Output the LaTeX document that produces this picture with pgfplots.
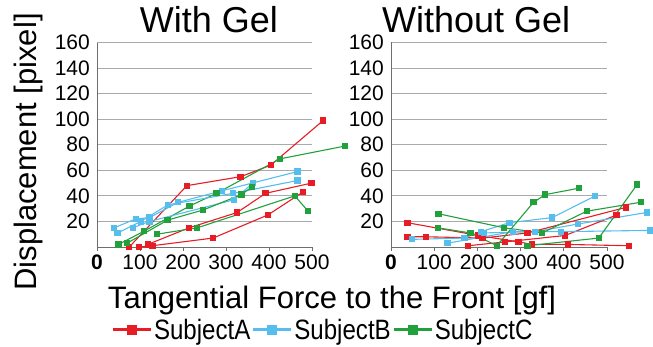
\documentclass[border=0pt]{standalone}
\usepackage{fontspec}
\setmainfont{Liberation Sans}
\newfontfamily\legfont[FakeStretch=0.86]{Liberation Sans}
\usepackage{pgfplots}
\pgfplotsset{compat=1.18}
\definecolor{cR}{RGB}{232,28,36}
\definecolor{cB}{RGB}{86,190,236}
\definecolor{cG}{RGB}{34,160,60}
\definecolor{gridc}{RGB}{170,170,170}
\definecolor{axc}{RGB}{110,110,110}
\pgfplotsset{
  myax/.style={
    scale only axis, height=204.5pt,
    xmin=0, xmax=500, ymin=0, ymax=160,
    clip=false,
    axis lines*=left,
    axis line style={axc, line width=1pt},
    xtick={0,100,200,300,400,500},
    xticklabels={\textbf{0},100,200,300,400,500},
    ytick={20,40,...,160},
    yticklabels={20,40,60,80,100,120,140,160},
    ymajorgrids, grid style={gridc, line width=1.1pt},
    tick align=outside, major tick length=4pt,
    xtick style={axc, line width=0.8pt},
    ytick style={draw=none},
    tick label style={font=\fontsize{21}{24}\selectfont},
    yticklabel style={inner sep=2pt, xshift=-1pt},
    xticklabel style={inner sep=2pt, yshift=-2pt},
    every axis plot/.append style={line width=1.1pt, mark=square*, mark size=2.6pt},
    title style={font=\fontsize{36}{40}\selectfont, inner sep=0pt, anchor=south, yshift=3pt},
  }
}
\begin{document}
\begin{tikzpicture}[x=1pt,y=1pt]
\begin{axis}[myax, at={(97pt,99pt)}, anchor=south west, width=215pt,
  title={With Gel}, title style={at={(0.52,1)}},
  legend style={at={(1.05,-0.405)}, anchor=center, draw=none, fill=none,
    font=\legfont\fontsize{28}{30}\selectfont, legend columns=3,
    /tikz/every even column/.append style={column sep=0pt},
    /tikz/every odd column/.append style={column sep=0pt},
    nodes={inner xsep=1.5pt, inner ysep=0pt},
    inner sep=0pt},
  legend image code/.code={\draw[line width=3pt, mark size=3.5pt, mark repeat=2, mark phase=2] plot coordinates {(0pt,0pt) (19pt,0pt) (38pt,0pt)};},
]
\addplot[cR] coordinates {(75,0)(209,48)(334,55)(404,64)(526,99)};
\addlegendentry{SubjectA}
\addplot[cB] coordinates {(40,15)(90,22)(122,23)(189,35)(291,44)(466,59)};
\addlegendentry{SubjectB}
\addplot[cG] coordinates {(50,2)(110,12.5)(215,32)(278,42)(426,69)(577,79)};
\addlegendentry{SubjectC}
\addplot[cR, forget plot] coordinates {(118,2)(214,15)(326,27)(392,42)(499,50)};
\addplot[cR, forget plot] coordinates {(97,0)(129,1)(270,7)(397,25)(479,43)};
\addplot[cB, forget plot] coordinates {(48,11)(102,20)(165,33)(317,42)(466,52)};
\addplot[cB, forget plot] coordinates {(83,15)(122,20)(319,37)(362,50)};
\addplot[cG, forget plot] coordinates {(70,3)(164,21)(247,29)(336,41)(360,47)};
\addplot[cG, forget plot] coordinates {(139,10)(233,15)(460,40)(491,28)};
\end{axis}
\begin{axis}[myax, at={(391pt,99pt)}, anchor=south west, width=216pt,
  title={Without Gel}, title style={at={(0.394,1)}},
]
\addplot[cR] coordinates {(38,19)(202,9)(295,4)(327,2)(409,2)(551,1)};
\addplot[cR] coordinates {(38,8)(81,8)(212,7)(316,11)(544,31)};
\addplot[cR] coordinates {(179,1)(264,4)(403,9)(522,25)};
\addplot[cB] coordinates {(49,6)(170,7)(208,12)(274,19)(373,23)(473,40)};
\addplot[cB] coordinates {(131,3)(282,12)(394,12)(601,13)};
\addplot[cB] coordinates {(216,11)(333,12)(433,18)(592,27)};
\addplot[cG] coordinates {(110,26)(262,15)(350,11)(453,28)(578,35)};
\addplot[cG] coordinates {(108,15)(184,11)(245,1)(330,35)(357,41)(435,46)};
\addplot[cG] coordinates {(316,1)(481,7)(570,49)};
\end{axis}
\node[rotate=90, font=\fontsize{31}{34}\selectfont, inner sep=0pt] at (28pt,194pt) {Displacement [pixel]};
\node[font=\fontsize{31}{34}\selectfont, inner sep=0pt, anchor=base] at (332pt,38pt) {Tangential Force to the Front [gf]};
\pgfresetboundingbox
\useasboundingbox (0,0) rectangle (653pt,346pt);
\end{tikzpicture}
\end{document}
